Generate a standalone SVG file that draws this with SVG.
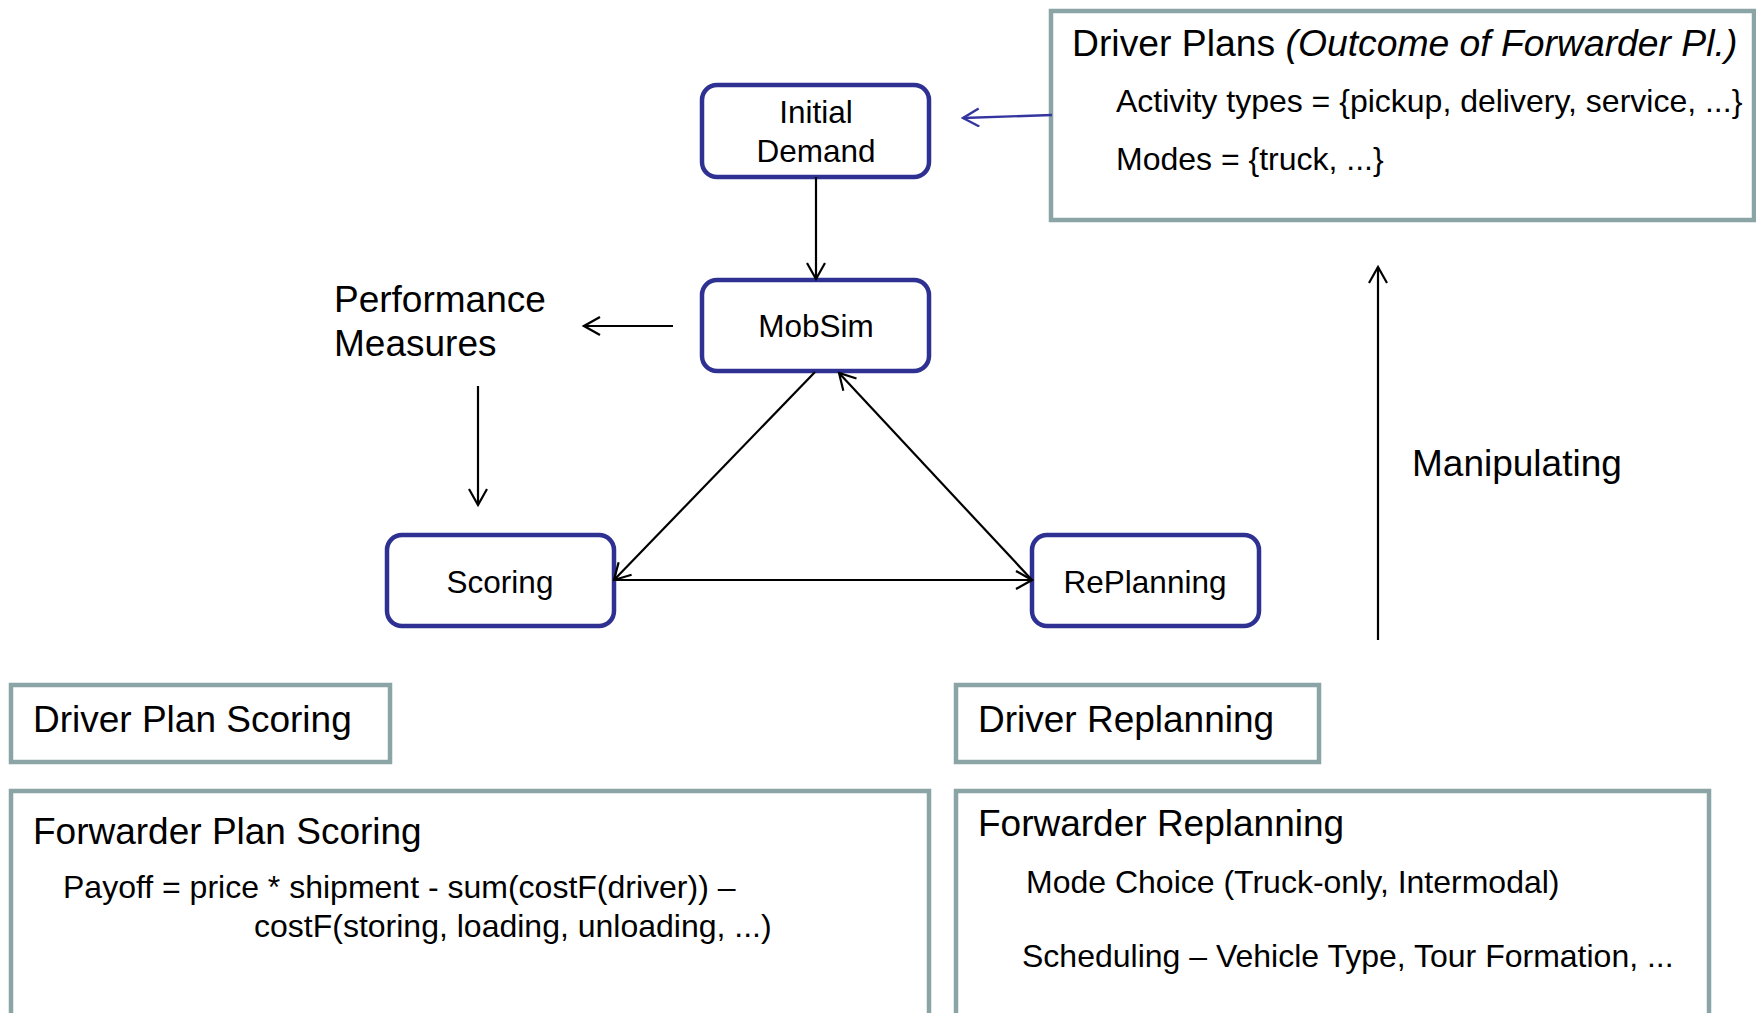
<svg xmlns="http://www.w3.org/2000/svg" width="1756" height="1013" viewBox="0 0 1756 1013">
<style>
text{font-family:"Liberation Sans",Arial,sans-serif;fill:#000}
.node{fill:#fff;stroke:#2E3192;stroke-width:4.5}
.box{fill:#fff;stroke:#8BA5A7;stroke-width:4.5}
.nl{font-size:31.5px;text-anchor:middle}
.big{font-size:37px}
.sub{font-size:32px}
.conn{stroke:#000;stroke-width:2.2;fill:none;marker-end:url(#ah)}
.blue{stroke:#3535A0;stroke-width:2.4;fill:none;marker-end:url(#ahb)}
</style>
<defs>
<marker id="ah" viewBox="0 0 20 20" refX="18" refY="10" markerWidth="20" markerHeight="20" markerUnits="userSpaceOnUse" orient="auto">
<path d="M2,1 L18,10 L2,19" fill="none" stroke="#000" stroke-width="2.2"/>
</marker>
<marker id="ahb" viewBox="0 0 20 20" refX="18" refY="10" markerWidth="20" markerHeight="20" markerUnits="userSpaceOnUse" orient="auto">
<path d="M2,1 L18,10 L2,19" fill="none" stroke="#3535A0" stroke-width="2.4"/>
</marker>
</defs>
<rect width="1756" height="1013" fill="#fff"/>

<g id="driver-plans">
<rect class="box" x="1051" y="11" width="703" height="209"/>
<text class="big" x="1072" y="56" style="font-size:37.3px">Driver Plans <tspan font-style="italic">(Outcome of Forwarder Pl.)</tspan></text>
<text class="sub" x="1116" y="112">Activity types = {pickup, delivery, service, ...}</text>
<text class="sub" x="1116" y="170">Modes = {truck, ...}</text>
</g>

<g id="initial-demand">
<rect class="node" x="702" y="85" width="227" height="92" rx="15"/>
<text class="nl" x="816" y="123">Initial</text>
<text class="nl" x="816" y="162">Demand</text>
</g>

<g id="mobsim">
<rect class="node" x="702" y="280" width="227" height="91" rx="15"/>
<text class="nl" x="816" y="337">MobSim</text>
</g>

<g id="performance-measures">
<text class="big" x="334" y="312">Performance</text>
<text class="big" x="334" y="356">Measures</text>
</g>

<g id="scoring">
<rect class="node" x="387" y="535" width="227" height="91" rx="15"/>
<text class="nl" x="500" y="593">Scoring</text>
</g>

<g id="replanning">
<rect class="node" x="1032" y="535" width="227" height="91" rx="15"/>
<text class="nl" x="1145" y="593">RePlanning</text>
</g>

<g id="manipulating">
<text class="big" x="1412" y="476">Manipulating</text>
</g>

<g id="driver-plan-scoring">
<rect class="box" x="11" y="685" width="379" height="77"/>
<text class="big" x="33" y="732">Driver Plan Scoring</text>
</g>

<g id="driver-replanning">
<rect class="box" x="956" y="685" width="363" height="77"/>
<text class="big" x="978" y="732">Driver Replanning</text>
</g>

<g id="forwarder-plan-scoring">
<rect class="box" x="11" y="791" width="918" height="240"/>
<text class="big" x="33" y="844">Forwarder Plan Scoring</text>
<text class="sub" x="63" y="898">Payoff = price * shipment - sum(costF(driver)) –</text>
<text class="sub" x="254" y="937">costF(storing, loading, unloading, ...)</text>
</g>

<g id="forwarder-replanning">
<rect class="box" x="956" y="791" width="753" height="240"/>
<text class="big" x="978" y="836">Forwarder Replanning</text>
<text class="sub" x="1026" y="893">Mode Choice (Truck-only, Intermodal)</text>
<text class="sub" x="1022" y="967">Scheduling – Vehicle Type, Tour Formation, ...</text>
</g>

<g id="connectors">
<path class="conn" d="M816,177 L816,279"/>
<path class="blue" d="M1052,115 L963,118"/>
<path class="conn" d="M673,326 L584,326"/>
<path class="conn" d="M478,386 L478,505"/>
<path class="conn" d="M815,372 L614,580"/>
<path class="conn" d="M614,580 L1032,580"/>
<path class="conn" d="M1032,580 L839,373"/>
<path class="conn" d="M1378,640 L1378,267"/>
</g>
</svg>
